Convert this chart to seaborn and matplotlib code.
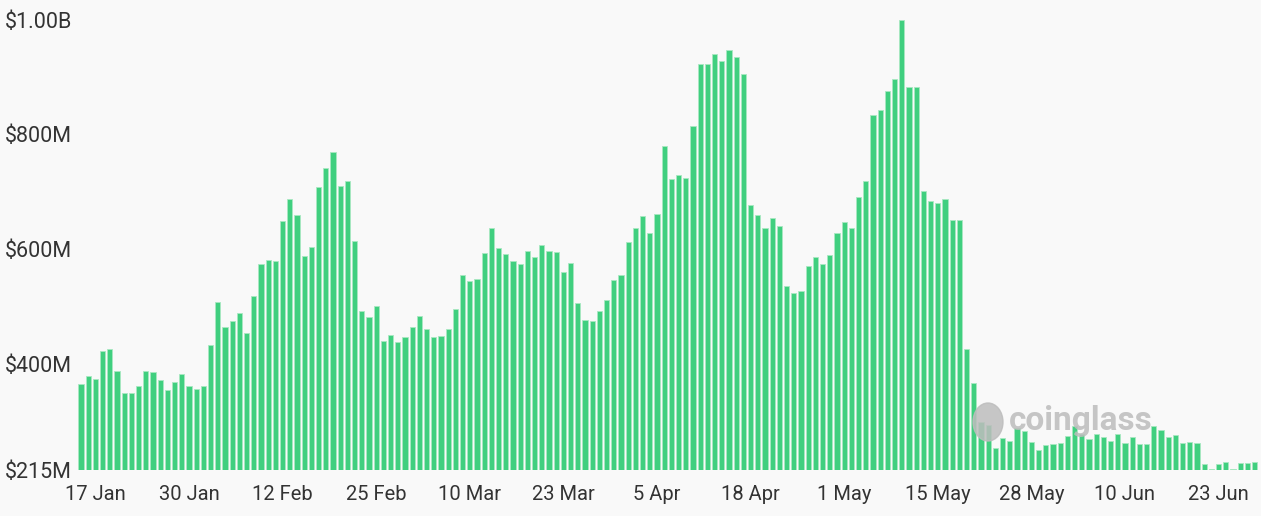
import matplotlib.pyplot as plt
import pandas as pd
import seaborn as sns
from matplotlib.patches import Ellipse

# Daily values in millions of USD, 15 Jan -> 28 Jun (one day missing in May)
values = [
    364, 378, 373, 422, 425, 387, 349, 349, 362, 387,
    385, 371, 354, 369, 382, 362, 356, 361, 432, 507,
    464, 474, 488, 453, 518, 574, 581, 579, 649, 687,
    659, 588, 603, 708, 741, 769, 710, 718, 614, 492,
    481, 500, 439, 450, 438, 446, 464, 483, 460, 446,
    448, 460, 495, 554, 544, 547, 593, 636, 601, 591,
    579, 574, 596, 586, 607, 596, 594, 560, 575, 506,
    476, 474, 492, 511, 546, 554, 612, 636, 657, 628,
    661, 780, 722, 729, 724, 814, 923, 923, 940, 928,
    947, 935, 905, 677, 659, 636, 654, 640, 535, 523,
    527, 570, 586, 574, 589, 628, 647, 636, 691, 718,
    834, 842, 876, 896, 1000, 883, 883, 701, 684, 680,
    687, 650, 650, 425, 366, 298, 294, 254, 271, 266,
    289, 283, 264, 250, 259, 260, 262, 275, 292, 278,
    269, 278, 273, 266, 278, 262, 273, 260, 260, 292,
    285, 273, 276, 262, 264, 262, 226, 216, 226, 229,
    216, 227, 227, 229,
]
dates = pd.date_range("2022-01-15", "2022-06-28").drop(pd.Timestamp("2022-05-08"))
date_labels = [f"{d.day} {d:%b}" for d in dates]

y_ticks = [215, 400, 600, 800, 1000]
y_tick_labels = ["$215M", "$400M", "$600M", "$800M", "$1.00B"]

bg = "#f9f9f9"
sns.set_style("white")
plt.rcParams["font.family"] = ["Roboto", "DejaVu Sans"]

fig = plt.figure(figsize=(12.61, 5.16), dpi=100, facecolor=bg)
ax = fig.add_axes([77.4 / 1261, 46 / 516, 1180.8 / 1261, 450.5 / 516])
ax.set_facecolor(bg)

df = pd.DataFrame({"date": date_labels, "value": values})
sns.barplot(
    data=df,
    x="date",
    y="value",
    color="#40cf7f",
    saturation=1,
    width=0.72,
    edgecolor="#a8e8c2",
    linewidth=0.6,
    ax=ax,
)

ax.set_xlim(-0.5, len(values) - 0.5)
ax.set_ylim(215, 1000)
ax.set_xlabel("")
ax.set_ylabel("")

tick_idx = list(range(2, len(values), 13))
ax.set_xticks(tick_idx, [date_labels[i] for i in tick_idx])
ax.set_yticks(y_ticks, y_tick_labels, ha="left")
ax.tick_params(axis="x", length=0, pad=11, labelsize=14.5, labelcolor="#333333")
ax.tick_params(axis="y", length=0, pad=52, labelsize=15.5, labelcolor="#333333")
for s in ax.spines.values():
    s.set_visible(False)
ax.grid(False)

# watermark
fig.add_artist(Ellipse((988 / 1261, 94 / 516), 30 / 1261, 38 / 516,
                       transform=fig.transFigure, color="#bdbdbd", alpha=0.85))
fig.text(1009 / 1261, 95 / 516, "coinglass", fontsize=24, fontweight="bold",
         color="#bcbcbc", alpha=0.85, va="center")

plt.savefig("out.png", dpi=100, facecolor=bg)
